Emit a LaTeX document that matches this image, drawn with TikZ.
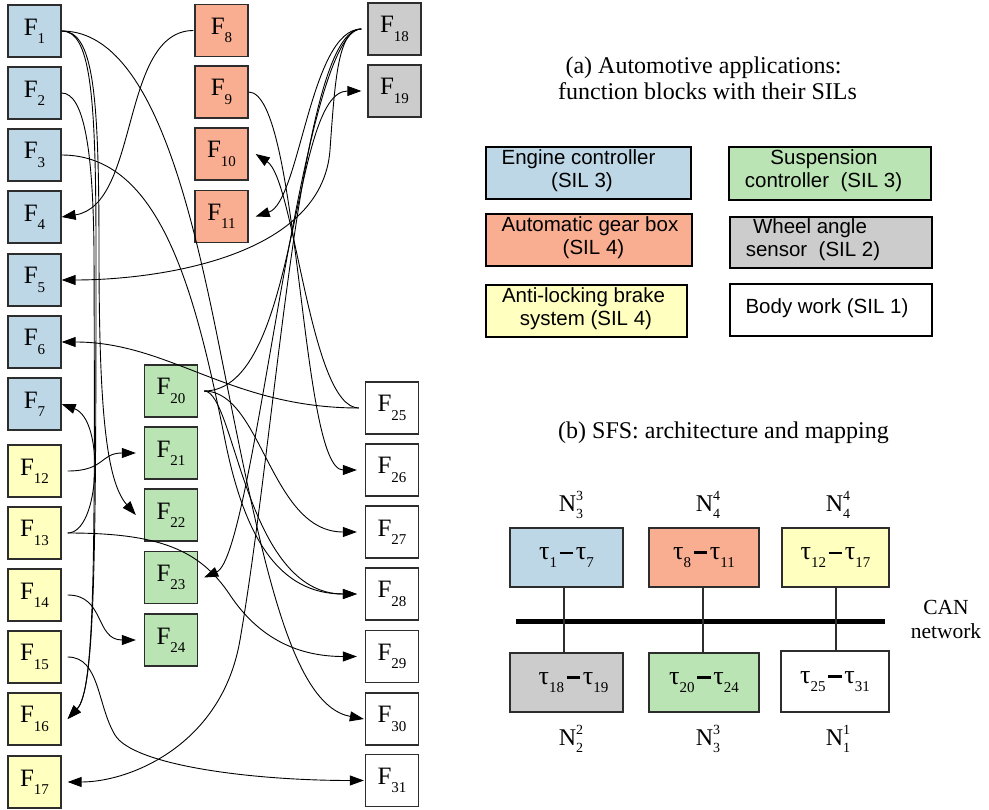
\documentclass[tikz,border=0pt]{standalone}
\usepackage{fontspec}
\setmainfont{Liberation Serif}
\newfontfamily\legendfont{Liberation Sans}
\usetikzlibrary{arrows.meta}

\definecolor{engblue}{RGB}{189,215,231}
\definecolor{gearorange}{RGB}{250,174,145}
\definecolor{brakeyellow}{RGB}{255,255,191}
\definecolor{suspgreen}{RGB}{186,228,179}
\definecolor{wheelgray}{RGB}{204,204,204}
\definecolor{boxline}{RGB}{45,45,45}

% function block label F_n
\newcommand\Fl[1]{F\raisebox{-0.33em}{\fontsize{15}{15}\selectfont #1}}
% task range label tau_a - tau_b
\newcommand\Tsub[1]{\raisebox{-0.3em}{\fontsize{15}{15}\selectfont #1}}
\newcommand\Tl[2]{τ\Tsub{#1}\hspace{0.1em}\rule[0.2em]{0.52em}{2.8pt}\hspace{0.1em}τ\Tsub{#2}}
% node label N with super- and subscript
\newcommand\Nl[2]{N\rlap{\raisebox{0.48em}{\fontsize{14}{14}\selectfont #1}}\raisebox{-0.3em}{\fontsize{14}{14}\selectfont #2}}

\begin{document}
\begin{tikzpicture}[x=1pt,y=-1pt,
  font=\fontsize{25}{29}\selectfont,
  fblock/.style={draw=boxline, line width=1.3pt, minimum width=53pt, minimum height=52pt, inner sep=0pt},
  lgbox/.style={draw=black, line width=1.3pt, inner sep=0pt},
  lgtext/.style={font=\legendfont\fontsize{20.5}{24}\selectfont, inner sep=0pt, anchor=mid},
  ttl/.style={font=\fontsize{24}{28}\selectfont, inner sep=0pt, anchor=mid},
  tbox/.style={draw=boxline, line width=1.3pt, inner sep=0pt, font=\fontsize{26}{29}\selectfont},
  nlab/.style={font=\fontsize{24}{28}\selectfont, inner sep=0pt},
  flow/.style={line width=0.9pt, -{Triangle[length=14pt,width=10pt]}}]

\useasboundingbox (0,0) rectangle (989,810);

% ---------- function blocks ----------
\foreach \n/\y in {1/31,2/93,3/155,4/217,5/280,6/342,7/404}
  \node[fblock, fill=engblue] (F\n) at (34.5,\y) {\Fl{\n}};
\foreach \n/\y in {12/471,13/533,14/595,15/657,16/719,17/782}
  \node[fblock, fill=brakeyellow] (F\n) at (34.5,\y) {\Fl{\n}};
\foreach \n/\y in {8/30.5,9/92,10/154,11/216.5}
  \node[fblock, fill=gearorange] (F\n) at (221.5,\y) {\Fl{\n}};
\foreach \n/\y in {20/391,21/453,22/515,23/577.5,24/640}
  \node[fblock, fill=suspgreen] (F\n) at (171,\y) {\Fl{\n}};
\foreach \n/\y in {18/29,19/91}
  \node[fblock, fill=wheelgray] (F\n) at (394.5,\y) {\Fl{\n}};
\foreach \n/\y in {25/408,26/470,27/532,28/594,29/656.5,30/719,31/780.5}
  \node[fblock, fill=white] (F\n) at (392,\y) {\Fl{\n}};

% ---------- data flows ----------
\draw[flow] ([xshift=-1pt]F8.west) .. controls (120,31) and (140,205) .. (F4.east);
\draw[flow] ([xshift=-6pt]F18.west) .. controls (310,29) and (300,202) .. ([xshift=7pt]F11.east);
\draw[flow] ([xshift=-6pt]F18.west) .. controls (338,29) and (335,80) .. (330,150)
            .. controls (322,260) and (150,280) .. (F5.east);
\draw[flow] ([xshift=-6pt]F18.west) .. controls (300,29) and (255,555) .. ([xshift=6pt]F23.east);
\draw[flow] ([xshift=-6pt]F18.west) .. controls (300,29) and (278,420) .. (240,640)
            .. controls (222,745) and (130,782) .. ([xshift=6pt]F17.east);
\draw[flow] ([xshift=6pt]F20.east) .. controls (300,391) and (290,91) .. ([xshift=-6pt]F19.west);
\draw[flow] ([xshift=6pt]F20.east) .. controls (262,391) and (270,532) .. ([xshift=-8pt]F27.west);
\draw[flow] ([xshift=6pt]F20.east) .. controls (235,391) and (245,594) .. ([xshift=-8pt]F28.west);
\draw[flow] (F9.east) .. controls (300,92) and (300,470) .. ([xshift=-8pt]F26.west);
\draw[flow] ([xshift=-6pt]F25.west) .. controls (310,408) and (295,180) .. ([xshift=7pt]F10.east);
\draw[flow] ([xshift=-6pt]F25.west) .. controls (230,408) and (170,342) .. (F6.east);
\draw[flow] ([xshift=6pt]F13.east) .. controls (100,533) and (105,420) .. (F7.east);
\draw[flow] ([xshift=6pt]F13.east) .. controls (160,533) and (200,550) .. (230,595)
            .. controls (260,640) and (300,656.5) .. ([xshift=-8pt]F29.west);
\draw[flow] ([xshift=6pt]F12.east) .. controls (105,471) and (100,453) .. ([xshift=-8pt]F21.west);
\draw[flow] ([xshift=6pt]F14.east) .. controls (105,595) and (95,640) .. ([xshift=-8pt]F24.west);
\draw[flow] ([xshift=6pt]F15.east) .. controls (100,657) and (97,705) .. (115,735)
            .. controls (133,765) and (250,780.5) .. ([xshift=-1pt]F31.west);
\draw[flow] (F1.east) .. controls (90,31) and (96,90) .. (96,250)
            .. controls (96,560) and (95,690) .. ([xshift=6pt]F16.east);
\draw[flow] (F2.east) .. controls (84,93) and (93,150) .. (94,250)
            .. controls (95,560) and (95,690) .. ([xshift=6pt]F16.east);
\draw[flow] (F1.east) .. controls (93,31) and (99,90) .. (99,250)
            .. controls (99,400) and (105,480) .. ([xshift=-8pt]F22.west);
\draw[flow] (F1.east) .. controls (150,31) and (190,200) .. (220,350)
            .. controls (262,560) and (290,705) .. ([xshift=-1pt]F30.west);
\draw[flow] (F3.east) .. controls (160,155) and (195,290) .. (225,440)
            .. controls (245,540) and (280,594) .. ([xshift=-8pt]F28.west);

% ---------- legend ----------
\node[ttl] (ta1) at (703.5,71) {(a) Automotive applications:};
\node[ttl] (ta2) at (707.5,97) {function blocks with their SILs};

\node[lgbox, fill=engblue, minimum width=205pt, minimum height=52pt] (L1) at (588.5,173) {};
\node[lgtext] (L1a) at (578.5,162) {Engine controller};
\node[lgtext] (L1b) at (582,185) {(SIL 3)};
\node[lgbox, fill=gearorange, minimum width=206pt, minimum height=52pt] (L2) at (589,240) {};
\node[lgtext] (L2a) at (590,229) {Automatic gear box};
\node[lgtext] (L2b) at (593.5,252) {(SIL 4)};
\node[lgbox, fill=brakeyellow, minimum width=201pt, minimum height=52pt] (L3) at (586.5,311) {};
\node[lgtext] (L3a) at (583.5,300) {Anti-locking brake};
\node[lgtext] (L3b) at (586,323) {system (SIL 4)};
\node[lgbox, fill=suspgreen, minimum width=202pt, minimum height=53pt] (L4) at (830,173.5) {};
\node[lgtext] (L4a) at (824,162) {Suspension};
\node[lgtext] (L4b) at (823.5,185) {controller\ \ (SIL 3)};
\node[lgbox, fill=wheelgray, minimum width=202pt, minimum height=51pt] (L5) at (831,242.5) {};
\node[lgtext] (L5a) at (810,231) {Wheel angle};
\node[lgtext] (L5b) at (813,254) {sensor\ \ (SIL 2)};
\node[lgbox, fill=white, minimum width=202pt, minimum height=52pt] (L6) at (831,310) {};
\node[lgtext] (L6a) at (827,311) {Body work (SIL 1)};

% ---------- architecture ----------
\node[ttl] (tb) at (723.5,436) {(b) SFS: architecture and mapping};

\node[tbox, fill=engblue, minimum width=113pt, minimum height=59pt] (T1) at (566.5,557.5) {\Tl{1}{7}};
\node[tbox, fill=gearorange, minimum width=110pt, minimum height=59pt] (T2) at (704,557.5) {\Tl{8}{11}};
\node[tbox, fill=brakeyellow, minimum width=107pt, minimum height=59pt] (T3) at (835.5,557.5) {\Tl{12}{17}};
\node[tbox, fill=wheelgray, minimum width=113pt, minimum height=59pt] (T4) at (566.5,682.5) {\hspace{14pt}\Tl{18}{19}};
\node[tbox, fill=suspgreen, minimum width=110pt, minimum height=59pt] (T5) at (704,682.5) {\Tl{20}{24}};
\node[tbox, fill=white, minimum width=108pt, minimum height=61pt] (T6) at (835,681.5) {\Tl{25}{31}};

\coordinate (busL) at (516,621);
\coordinate (busR) at (885,621);
\draw[line width=5pt] (busL) -- (busR);
\draw[line width=1.3pt, boxline] ([xshift=-2.5pt]T1.south) -- ([xshift=-2.5pt]T4.north);
\draw[line width=1.3pt, boxline] ([xshift=-1pt]T2.south) -- ([xshift=-1pt]T5.north);
\draw[line width=1.3pt, boxline] ([xshift=0.5pt]T3.south) -- ([xshift=1pt]T6.north);

\node[nlab] (N1) at (571,505) {\Nl{3}{3}};
\node[nlab] (N2) at (708,505) {\Nl{4}{4}};
\node[nlab] (N3) at (838,505) {\Nl{4}{4}};
\node[nlab] (N4) at (571,739) {\Nl{2}{2}};
\node[nlab] (N5) at (708,739) {\Nl{3}{3}};
\node[nlab] (N6) at (838,739) {\Nl{1}{1}};

\node[ttl, font=\fontsize{21.5}{25}\selectfont] (can1) at (946,612) {CAN};
\node[ttl, font=\fontsize{21.5}{25}\selectfont] (can2) at (946,636) {network};
\end{tikzpicture}
\end{document}
